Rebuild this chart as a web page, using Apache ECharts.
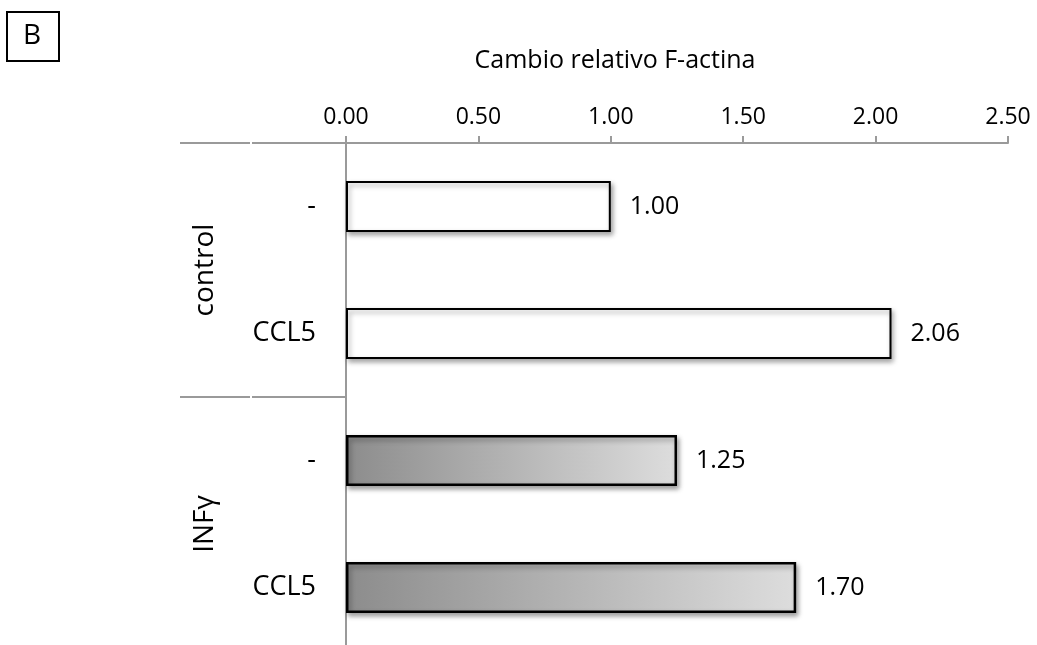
<!DOCTYPE html>
<html>
<head>
<meta charset="utf-8">
<script src="https://cdn.jsdelivr.net/npm/echarts@6/dist/echarts.min.js"></script>
<style>
html,body{margin:0;padding:0;background:#fff;}
#chart{width:1037px;height:645px;}
</style>
</head>
<body>
<div id="chart"></div>
<script>
// ---- data ----
const categories = ['-', 'CCL5', '-', 'CCL5'];
const groupOfCategory = [0, 0, 1, 1];
const groups = ['control', 'INFγ'];
const values = [1.00, 2.06, 1.25, 1.70];
const xTicks = [0, 0.5, 1.0, 1.5, 2.0, 2.5];
const axisTitle = 'Cambio relativo F-actina';
const panelLetter = 'B';

const FONT = 'Open Sans';
const chart = echarts.init(document.getElementById('chart'), null, {renderer: 'canvas'});

const gradientFill = new echarts.graphic.LinearGradient(0, 0, 1, 0, [
  {offset: 0, color: '#8c8c8c'},
  {offset: 1, color: '#dddddd'}
]);

const barData = values.map((v, i) => ({
  value: v,
  itemStyle: groupOfCategory[i] === 0
    ? {color: '#ffffff', borderColor: '#000000', borderWidth: 2}
    : {color: gradientFill, borderColor: '#000000', borderWidth: 2.5}
}));

const option = {
  animation: false,
  backgroundColor: '#ffffff',
  grid: {left: 346, top: 143, width: 662, height: 508, containLabel: false, outerBoundsMode: 'none'},
  xAxis: {
    type: 'value',
    position: 'top',
    min: xTicks[0],
    max: xTicks[xTicks.length - 1],
    interval: 0.5,
    name: axisTitle,
    nameLocation: 'middle',
    nameGap: 70,
    nameTextStyle: {fontFamily: FONT, fontSize: 25, color: '#000', padding: [0, 124, 0, 0]},
    axisLine: {show: true, lineStyle: {color: '#9a9a9a', width: 2}},
    axisTick: {show: true, length: 7, lineStyle: {color: '#9a9a9a', width: 2}},
    axisLabel: {fontFamily: FONT, fontSize: 23, color: '#000', margin: 14,
      formatter: v => v.toFixed(2)},
    splitLine: {show: false}
  },
  yAxis: [
    {
      type: 'category',
      data: categories,
      inverse: true,
      position: 'left',
      axisLine: {show: true, onZero: false, lineStyle: {color: '#9a9a9a', width: 2}},
      axisTick: {show: false},
      axisLabel: {fontFamily: FONT, fontSize: 27, color: '#000', margin: 30}
    },
    {
      type: 'category',
      data: groups,
      inverse: true,
      position: 'left',
      axisLine: {show: false},
      axisTick: {show: true, length: 166, lineStyle: {color: '#9a9a9a', width: 2}},
      axisLabel: {fontFamily: FONT, fontSize: 28, color: '#000', rotate: 90, margin: 127}
    }
  ],
  series: [{
    type: 'bar',
    yAxisIndex: 0,
    data: barData,
    barWidth: 51,
    itemStyle: {shadowColor: 'rgba(0,0,0,0.35)', shadowBlur: 5, shadowOffsetX: 2, shadowOffsetY: 3},
    label: {
      show: true, position: 'right', distance: 19,
      fontFamily: FONT, fontSize: 25, color: '#000',
      formatter: p => p.value.toFixed(2)
    }
  }],
  graphic: [
    {type: 'rect', left: 6, top: 11, shape: {width: 52, height: 49},
     style: {fill: '#fff', stroke: '#000', lineWidth: 2}},
    {type: 'text', x: 32, y: 36, style: {text: panelLetter, fontFamily: FONT, fontSize: 28, fill: '#000',
      align: 'center', verticalAlign: 'middle'}},
    {type: 'rect', shape: {x: 250, y: 139, width: 2, height: 8}, style: {fill: '#fff'}, z: 100},
    {type: 'rect', shape: {x: 250, y: 393, width: 2, height: 8}, style: {fill: '#fff'}, z: 100}
  ]
};
chart.setOption(option);
</script>
</body>
</html>
